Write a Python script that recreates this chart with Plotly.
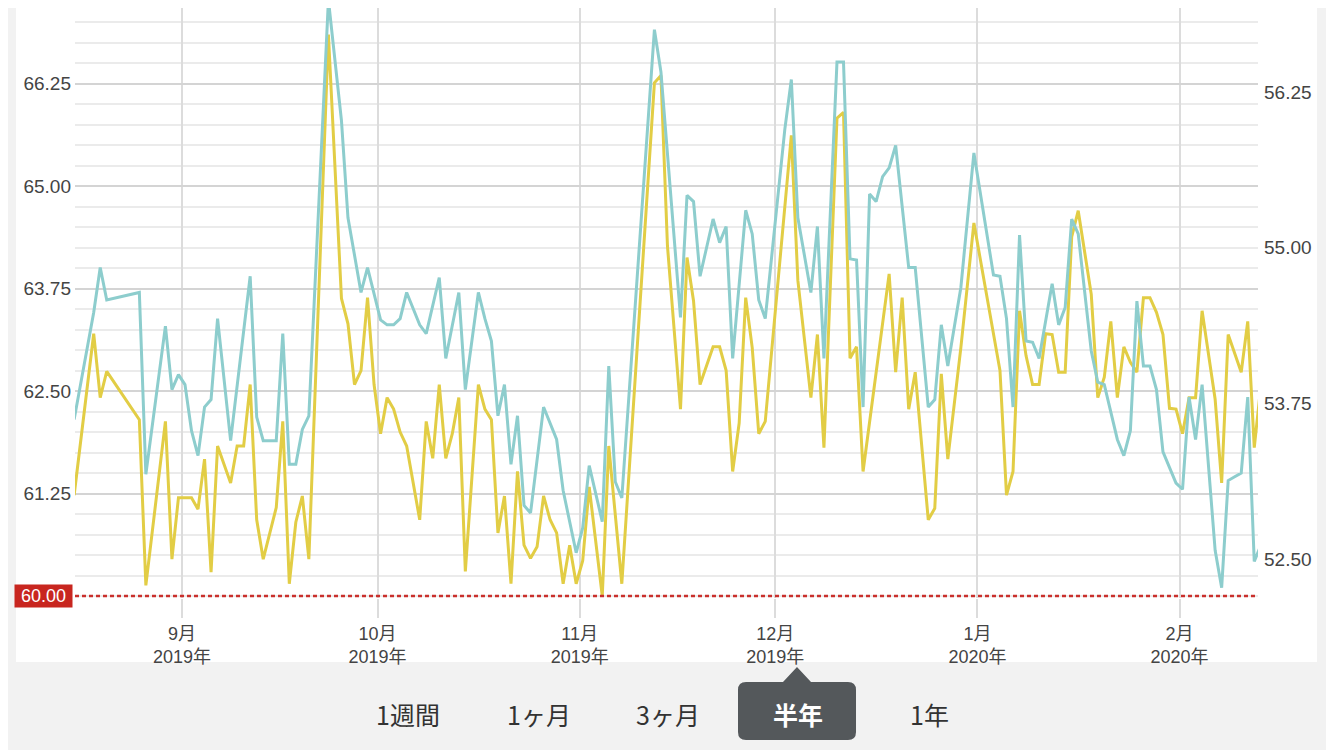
import pandas as pd
import plotly.graph_objects as go

# readings, one per day (gaps = no measurement)
dates = [
    "2019-08-15", "2019-08-18", "2019-08-19", "2019-08-20", "2019-08-25", "2019-08-26",
    "2019-08-29", "2019-08-30", "2019-08-31", "2019-09-01", "2019-09-02", "2019-09-03",
    "2019-09-04", "2019-09-05", "2019-09-06", "2019-09-08", "2019-09-09", "2019-09-10",
    "2019-09-11", "2019-09-12", "2019-09-13", "2019-09-15", "2019-09-16", "2019-09-17",
    "2019-09-18", "2019-09-19", "2019-09-20", "2019-09-23", "2019-09-25", "2019-09-26",
    "2019-09-27", "2019-09-28", "2019-09-29", "2019-09-30", "2019-10-01", "2019-10-02",
    "2019-10-03", "2019-10-04", "2019-10-05", "2019-10-07", "2019-10-08", "2019-10-09",
    "2019-10-10", "2019-10-11", "2019-10-12", "2019-10-13", "2019-10-14", "2019-10-16",
    "2019-10-17", "2019-10-18", "2019-10-19", "2019-10-20", "2019-10-21", "2019-10-22",
    "2019-10-23", "2019-10-24", "2019-10-25", "2019-10-26", "2019-10-27", "2019-10-28",
    "2019-10-29", "2019-10-30", "2019-10-31", "2019-11-01", "2019-11-02", "2019-11-04",
    "2019-11-05", "2019-11-06", "2019-11-07", "2019-11-12", "2019-11-13", "2019-11-14",
    "2019-11-16", "2019-11-17", "2019-11-18", "2019-11-19", "2019-11-21", "2019-11-22",
    "2019-11-23", "2019-11-24", "2019-11-25", "2019-11-26", "2019-11-27", "2019-11-28",
    "2019-11-29", "2019-12-02", "2019-12-03", "2019-12-04", "2019-12-06", "2019-12-07",
    "2019-12-08", "2019-12-10", "2019-12-11", "2019-12-12", "2019-12-13", "2019-12-14",
    "2019-12-15", "2019-12-16", "2019-12-17", "2019-12-18", "2019-12-19", "2019-12-20",
    "2019-12-21", "2019-12-22", "2019-12-24", "2019-12-25", "2019-12-26", "2019-12-27",
    "2019-12-29", "2019-12-31", "2020-01-03", "2020-01-04", "2020-01-05", "2020-01-06",
    "2020-01-07", "2020-01-08", "2020-01-09", "2020-01-10", "2020-01-11", "2020-01-12",
    "2020-01-13", "2020-01-14", "2020-01-15", "2020-01-16", "2020-01-18", "2020-01-19",
    "2020-01-20", "2020-01-21", "2020-01-22", "2020-01-23", "2020-01-24", "2020-01-25",
    "2020-01-26", "2020-01-27", "2020-01-28", "2020-01-29", "2020-01-30", "2020-01-31",
    "2020-02-01", "2020-02-02", "2020-02-03", "2020-02-04", "2020-02-06", "2020-02-07",
    "2020-02-08", "2020-02-09", "2020-02-10", "2020-02-11", "2020-02-12", "2020-02-13",
]

# yellow line, left axis
weight = [
    61.23, 63.20, 62.42, 62.74, 62.15, 60.13,
    62.13, 60.45, 61.20, 61.20, 61.20, 61.06,
    61.67, 60.29, 61.83, 61.38, 61.83, 61.83,
    62.58, 60.93, 60.45, 61.08, 62.13, 60.15,
    60.90, 61.22, 60.45, 66.85, 63.63, 63.32,
    62.58, 62.75, 63.64, 62.58, 61.98, 62.42,
    62.28, 62.00, 61.83, 60.93, 62.13, 61.68,
    62.58, 61.68, 61.98, 62.42, 60.30, 62.58,
    62.28, 62.15, 60.77, 61.22, 60.15, 61.52,
    60.62, 60.46, 60.60, 61.22, 60.93, 60.77,
    60.15, 60.62, 60.15, 60.43, 61.33, 60.00,
    61.83, None, 60.15, 66.26, 66.35, 64.27,
    62.28, 64.13, 63.60, 62.58, 63.04, 63.04,
    62.75, 61.52, 62.11, 63.64, 63.03, 61.98,
    62.13, 64.78, 65.62, 63.85, 62.42, 63.19,
    61.81, 65.83, 65.90, 62.90, 63.04, 61.52,
    None, None, None, 63.93, 62.73, 63.64,
    62.28, 62.73, 60.93, 61.07, 62.71, 61.67,
    63.03, 64.55, None, 62.75, 61.23, 61.52,
    63.48, 62.93, 62.58, 62.58, 63.20, 63.19,
    62.73, 62.73, 64.38, 64.70, 63.68, 62.42,
    62.67, 63.35, 62.42, 63.04, 62.85, 62.73,
    63.64, 63.64, 63.46, 63.19, 62.29, 62.28,
    61.98, 62.42, 62.42, 63.48, 62.40, 61.38,
    63.19, None, 62.73, 63.35, 61.81, 62.56,
]

# teal line, right axis
muscle = [
    53.62, 54.48, 54.84, 54.58, 54.64, 53.18,
    54.37, 53.86, 53.98, 53.90, 53.53, 53.33,
    53.72, 53.78, 54.43, 53.45, None, None,
    54.77, 53.64, 53.45, 53.45, 54.31, 53.26,
    53.26, 53.54, 53.65, 56.99, 56.02, 55.24,
    None, 54.64, 54.84, None, 54.42, 54.38,
    54.38, 54.43, 54.64, 54.38, 54.31, None,
    54.76, 54.11, None, 54.64, 53.86, 54.64,
    54.43, 54.25, 53.65, 53.90, 53.26, 53.65,
    52.93, 52.87, None, 53.72, None, 53.46,
    53.05, 52.81, 52.55, 52.75, 53.25, 52.80,
    54.05, 53.12, 52.99, 56.75, 56.41, None,
    54.44, 55.42, 55.37, 54.77, 55.23, 55.04,
    55.17, 54.11, None, 55.30, 55.11, 54.58,
    54.43, 55.95, 56.35, 55.24, 54.64, 55.17,
    54.11, 56.49, 56.49, 54.91, 54.90, 53.72,
    55.43, 55.37, 55.57, 55.64, 55.82, None,
    54.84, 54.84, 53.72, 53.78, 54.38, 54.05,
    54.68, 55.76, 54.78, 54.77, 54.43, 53.72,
    55.10, 54.25, 54.24, 54.11, None, 54.71,
    54.38, 54.52, 55.23, 55.11, 54.17, 53.92,
    53.90, None, 53.46, 53.33, 53.53, 54.57,
    54.05, 54.05, 53.86, 53.36, None, 53.11,
    53.06, 53.80, 53.46, 53.90, 52.57, 52.27,
    53.13, 53.16, 53.19, 53.80, 52.48, 52.61,
]

month_ticks = ["2019-09-01", "2019-10-01", "2019-11-01", "2019-12-01", "2020-01-01", "2020-02-01"]
month_labels = ["9月<br>2019年", "10月<br>2019年", "11月<br>2019年", "12月<br>2019年",
                "1月<br>2020年", "2月<br>2020年"]
left_ticks = [61.25, 62.50, 63.75, 65.00, 66.25]
right_ticks = [52.50, 53.75, 55.00, 56.25]
target = 60.0
periods = ["1週間", "1ヶ月", "3ヶ月", "半年", "1年"]
selected = "半年"

# the page body adds an 8px margin, so the figure is 8px smaller and positions
# below are given in page pixels
OFF = 8
W, H = 1334 - OFF, 750 - OFF
L, R, T, B = 75, 1258, OFF, 598
FONT = "Liberation Sans, Noto Sans CJK JP, sans-serif"


def rx(x):
    return (x - L) / (R - L)


def ry(y):
    return (B - y) / (B - T)


# measurements were taken late morning
x = pd.to_datetime(dates) + pd.Timedelta(hours=11)

fig = go.Figure()
fig.add_trace(go.Scatter(x=x, y=weight, mode="lines", connectgaps=True,
                         line=dict(color="#e2cd45", width=3), yaxis="y"))
fig.add_trace(go.Scatter(x=x, y=muscle, mode="lines", connectgaps=True,
                         line=dict(color="#8dcdcd", width=3), yaxis="y2"))

xfont = dict(family=FONT, size=18, color="#444")
yfont = dict(family=FONT, size=19, color="#444")

fig.update_layout(
    width=W, height=H, autosize=False,
    margin=dict(l=L - OFF, r=W - (R - OFF), t=0, b=H - (B - OFF)),
    paper_bgcolor="#f2f2f2", plot_bgcolor="white",
    showlegend=False,
    xaxis=dict(
        type="date", range=["2019-08-15 14:10", "2020-02-13 00:45"],
        tickmode="array", tickvals=month_ticks, ticktext=month_labels,
        showgrid=True, gridcolor="#dcdcdc", gridwidth=1.5,
        ticks="outside", ticklen=19, tickcolor="#dcdcdc", tickwidth=1.5,
        tickfont=xfont, zeroline=False, showline=False,
    ),
    yaxis=dict(
        range=[59.976, 67.173], tickmode="array", tickvals=left_ticks,
        tickformat=".2f", ticklabelstandoff=3,
        showgrid=True, gridcolor="#d4d4d4", gridwidth=1.5,
        minor=dict(tickmode="linear", dtick=0.25, tick0=0, showgrid=True,
                   gridcolor="#ebebeb", gridwidth=1.5),
        tickfont=yfont, zeroline=False, showline=False, ticks="",
    ),
    yaxis2=dict(
        range=[52.187, 56.924], tickmode="array", tickvals=right_ticks,
        tickformat=".2f", ticklabelstandoff=5,
        overlaying="y", side="right", showgrid=False,
        tickfont=yfont, zeroline=False, showline=False, ticks="",
    ),
)

# white card behind the chart
fig.add_shape(type="rect", xref="paper", yref="paper", layer="below",
              x0=rx(16), x1=rx(1317), y0=ry(662), y1=ry(-5),
              fillcolor="white", line=dict(width=0))

# target line
fig.add_shape(type="line", xref="paper", yref="y", x0=0, x1=1, y0=target, y1=target,
              line=dict(color="#c9302c", width=2.5, dash="4px,3px"))
fig.add_annotation(xref="paper", yref="y", x=rx(73), y=target, xanchor="right",
                   yanchor="middle", text=f"{target:.2f}", showarrow=False,
                   font=dict(family=FONT, size=18, color="white"),
                   bgcolor="#c8261f", borderpad=2, width=53, height=18)

# period selector
btn_x = [408, 539, 668, 798, 929]
sx0, sx1, sy0, sy1, r = 738, 856, 682, 740, 8
pts = [("M", sx0 + r, sy0), ("L", 783, sy0), ("L", 797, 667), ("L", 811, sy0),
       ("L", sx1 - r, sy0), ("Q", sx1, sy0, sx1, sy0 + r), ("L", sx1, sy1 - r),
       ("Q", sx1, sy1, sx1 - r, sy1), ("L", sx0 + r, sy1), ("Q", sx0, sy1, sx0, sy1 - r),
       ("L", sx0, sy0 + r), ("Q", sx0, sy0, sx0 + r, sy0)]
path = ""
for p in pts:
    cmd, coords = p[0], p[1:]
    xy = [f"{rx(coords[i]):.5f},{ry(coords[i + 1]):.5f}" for i in range(0, len(coords), 2)]
    path += cmd + " ".join(xy) + " "
path += "Z"
fig.add_shape(type="path", xref="paper", yref="paper", path=path,
              fillcolor="#54585b", line=dict(width=0))

for label, bx in zip(periods, btn_x):
    on = label == selected
    fig.add_annotation(xref="paper", yref="paper", x=rx(bx), y=ry(714),
                       text=f"<b>{label}</b>" if on else label, showarrow=False,
                       xanchor="center", yanchor="middle",
                       font=dict(family="Noto Sans CJK JP, sans-serif", size=25,
                                 color="white" if on else "#333"))

fig.write_html("out.html")
